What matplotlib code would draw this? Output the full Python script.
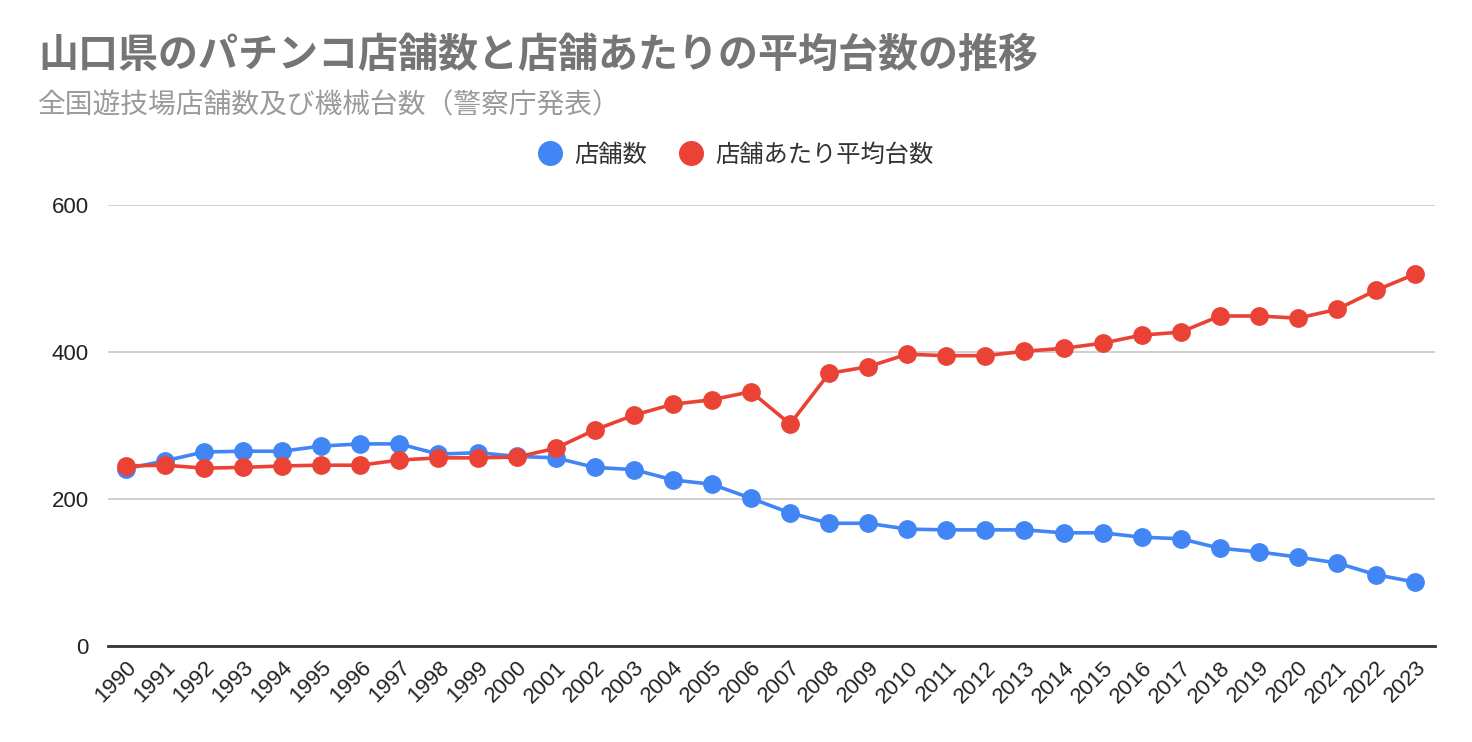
import matplotlib
matplotlib.use("Agg")
import matplotlib.pyplot as plt
from matplotlib.lines import Line2D

years = list(range(1990, 2024))
stores = [241, 252, 264, 265, 265, 272, 275, 275, 261, 263, 258, 256, 243, 240, 226, 220,
          201, 181, 167, 167, 159, 158, 158, 158, 154, 154, 148, 146, 133, 128, 121, 113, 97, 87]
avg_machines = [245, 246, 242, 243, 245, 246, 246, 253, 256, 256, 257, 269, 294, 314, 329, 335,
                346, 302, 371, 380, 397, 395, 395, 401, 405, 412, 423, 427, 449, 449, 446, 458, 484, 506]
series_names = ["店舗数", "店舗あたり平均台数"]
yticks = [0, 200, 400, 600]
title = "山口県のパチンコ店舗数と店舗あたりの平均台数の推移"
subtitle = "全国遊技場店舗数及び機械台数（警察庁発表）"

BLUE = "#4285F4"
RED = "#EA4335"
CJK = ["Noto Sans CJK JP", "DejaVu Sans"]
LAT = ["Liberation Sans", "DejaVu Sans"]

fig = plt.figure(figsize=(14.72, 7.42), dpi=100)
ax = fig.add_axes([108/1472, 1-646/742, (1435-108)/1472, (646-205)/742])

ax.plot(years, stores, color=BLUE, lw=2.6, marker="o", ms=12.5, zorder=3, label=series_names[0])
ax.plot(years, avg_machines, color=RED, lw=2.6, marker="o", ms=12.5, zorder=4, label=series_names[1])

ax.set_xlim(1989.54, 2023.51)
ax.set_ylim(0, 600)
ax.set_yticks(yticks)
ax.set_yticklabels([str(v) for v in yticks], fontfamily=LAT, fontsize=16, color="#222222")
ax.set_xticks(years)
ax.set_xticklabels([str(y) for y in years], rotation=45, ha="right", rotation_mode="anchor",
                   fontfamily=LAT, fontsize=16, color="#222222")
ax.tick_params(axis="y", length=0, pad=14)
ax.tick_params(axis="x", length=0, pad=8)
ax.grid(axis="y", color="#c8c8c8", lw=1.2)
ax.set_axisbelow(True)
for s in ["left", "right", "top"]:
    ax.spines[s].set_visible(False)
ax.spines["bottom"].set_color("#333333")
ax.spines["bottom"].set_linewidth(2)
ax.spines["bottom"].set_zorder(2)

fig.text(38/1472, 1-55/742, title, fontfamily=CJK, fontsize=28.8, fontweight="bold",
         color="#757575", va="center", ha="left")
fig.text(38/1472, 1-105/742, subtitle, fontfamily=CJK, fontsize=20,
         color="#9a9a9a", va="center", ha="left")

handles = [Line2D([], [], color=BLUE, marker="o", ls="none", ms=17),
           Line2D([], [], color=RED, marker="o", ls="none", ms=17)]
fig.legend(handles, series_names, loc="center", bbox_to_anchor=(0.5, 1-155/742), ncol=2,
           frameon=False, prop={"family": CJK, "size": 17.5}, handletextpad=0.5,
           columnspacing=1.3, handlelength=1.0, labelcolor="#333333")

fig.savefig("out.png", dpi=100, facecolor="white")
